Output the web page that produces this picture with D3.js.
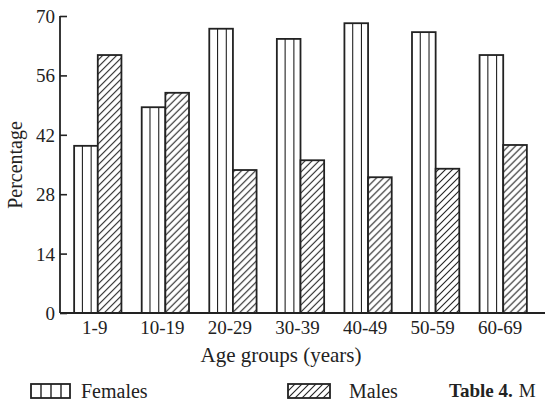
<!DOCTYPE html>
<html lang="en">
<head>
<meta charset="utf-8">
<title>Age groups bar chart</title>
<script src="https://cdn.jsdelivr.net/npm/d3@7"></script>
<style>
  body { margin: 0; background: #fff; }
  text { font-family: "Liberation Serif", "Times New Roman", serif; fill: #222; }
</style>
</head>
<body>
<script>
// data
var ageGroups = ["1-9", "10-19", "20-29", "30-39", "40-49", "50-59", "60-69"];
var females = [39.4, 48.5, 67, 64.6, 68.3, 66.2, 60.8];
var males = [60.8, 51.9, 33.7, 36, 32, 34, 39.6];
var yTicks = [0, 14, 28, 42, 56, 70];

var w = 545, h = 406;
var x0 = 60, yTop = 16, yBot = 313;

var svg = d3.select("body").append("svg")
  .attr("width", w).attr("height", h);

var defs = svg.append("defs");
var hatch = defs.append("pattern")
  .attr("id", "hatch")
  .attr("patternUnits", "userSpaceOnUse")
  .attr("width", 7).attr("height", 7);
hatch.append("rect").attr("width", 7).attr("height", 7).attr("fill", "#fff");
hatch.append("path")
  .attr("d", "M0,7 L7,0 M-1,1 L1,-1 M6,8 L8,6")
  .attr("stroke", "#222").attr("stroke-width", 1.1);

var xScale = d3.scaleBand()
  .domain(ageGroups)
  .range([64, 537])
  .paddingInner(0.3)
  .paddingOuter(0.15);

var sub = d3.scaleBand()
  .domain(["f", "m"])
  .range([0, xScale.bandwidth()]);

var yScale = d3.scaleLinear()
  .domain([0, 70])
  .range([yBot, yTop]);

// bars
var groups = svg.selectAll(".grp")
  .data(ageGroups)
  .enter()
  .append("g")
  .attr("class", "grp")
  .attr("transform", function(d) { return "translate(" + xScale(d) + ",0)"; });

groups.append("rect")
  .attr("x", sub("f"))
  .attr("y", function(d, i) { return yScale(females[i]); })
  .attr("width", sub.bandwidth())
  .attr("height", function(d, i) { return yBot - yScale(females[i]); })
  .attr("fill", "#fff")
  .attr("stroke", "#222")
  .attr("stroke-width", 1.8);

[0.35, 0.72].forEach(function(f) {
  groups.append("line")
    .attr("x1", sub("f") + sub.bandwidth() * f)
    .attr("x2", sub("f") + sub.bandwidth() * f)
    .attr("y1", function(d, i) { return yScale(females[i]); })
    .attr("y2", yBot)
    .attr("stroke", "#222")
    .attr("stroke-width", 1.1);
});

groups.append("rect")
  .attr("x", sub("m"))
  .attr("y", function(d, i) { return yScale(males[i]); })
  .attr("width", sub.bandwidth())
  .attr("height", function(d, i) { return yBot - yScale(males[i]); })
  .attr("fill", "url(#hatch)")
  .attr("stroke", "#222")
  .attr("stroke-width", 1.8);

// y axis
var yAxis = d3.axisRight(yScale)
  .tickValues(yTicks)
  .tickSize(7)
  .tickFormat("");
var ya = svg.append("g")
  .attr("transform", "translate(" + x0 + ",0)")
  .call(yAxis);
ya.select(".domain").remove();
ya.selectAll(".tick line").attr("stroke", "#222").attr("stroke-width", 1.6);
svg.append("line")
  .attr("x1", x0).attr("x2", x0)
  .attr("y1", yTop).attr("y2", yBot)
  .attr("stroke", "#222").attr("stroke-width", 1.8);

svg.selectAll(".ylab")
  .data(yTicks)
  .enter()
  .append("text")
  .attr("class", "ylab")
  .attr("x", x0 - 5)
  .attr("y", function(d) { return yScale(d) + 7; })
  .attr("text-anchor", "end")
  .attr("font-size", "19px")
  .text(function(d) { return d; });

// x axis
svg.append("line")
  .attr("x1", x0).attr("x2", w)
  .attr("y1", yBot).attr("y2", yBot)
  .attr("stroke", "#222").attr("stroke-width", 1.8);

svg.selectAll(".xlab")
  .data(ageGroups)
  .enter()
  .append("text")
  .attr("class", "xlab")
  .attr("x", function(d) { return xScale(d) + xScale.bandwidth() / 2 - 3; })
  .attr("y", 334)
  .attr("text-anchor", "middle")
  .attr("font-size", "19px")
  .text(function(d) { return d; });

svg.append("text")
  .attr("x", 281).attr("y", 362)
  .attr("text-anchor", "middle")
  .attr("font-size", "21px")
  .text("Age groups (years)");

svg.append("text")
  .attr("transform", "translate(22,165) rotate(-90)")
  .attr("text-anchor", "middle")
  .attr("font-size", "20px")
  .text("Percentage");

// legend
var lf = svg.append("g").attr("transform", "translate(31,384)");
lf.append("rect").attr("width", 39).attr("height", 14)
  .attr("fill", "#fff").attr("stroke", "#222").attr("stroke-width", 1.8);
[10, 20, 30].forEach(function(xx) {
  lf.append("line").attr("x1", xx).attr("x2", xx).attr("y1", 0).attr("y2", 14)
    .attr("stroke", "#222").attr("stroke-width", 1.4);
});
svg.append("text").attr("x", 81).attr("y", 398)
  .attr("font-size", "20px").text("Females");

var lm = svg.append("g").attr("transform", "translate(288,384)");
lm.append("rect").attr("width", 42).attr("height", 14)
  .attr("fill", "url(#hatch)").attr("stroke", "#222").attr("stroke-width", 1.8);
svg.append("text").attr("x", 349).attr("y", 398)
  .attr("font-size", "20px").text("Males");

svg.append("text").attr("x", 449).attr("y", 397)
  .attr("font-size", "19px")
  .html("<tspan font-weight='bold'>Table 4.</tspan><tspan dx='6'>M</tspan>");
</script>
</body>
</html>
